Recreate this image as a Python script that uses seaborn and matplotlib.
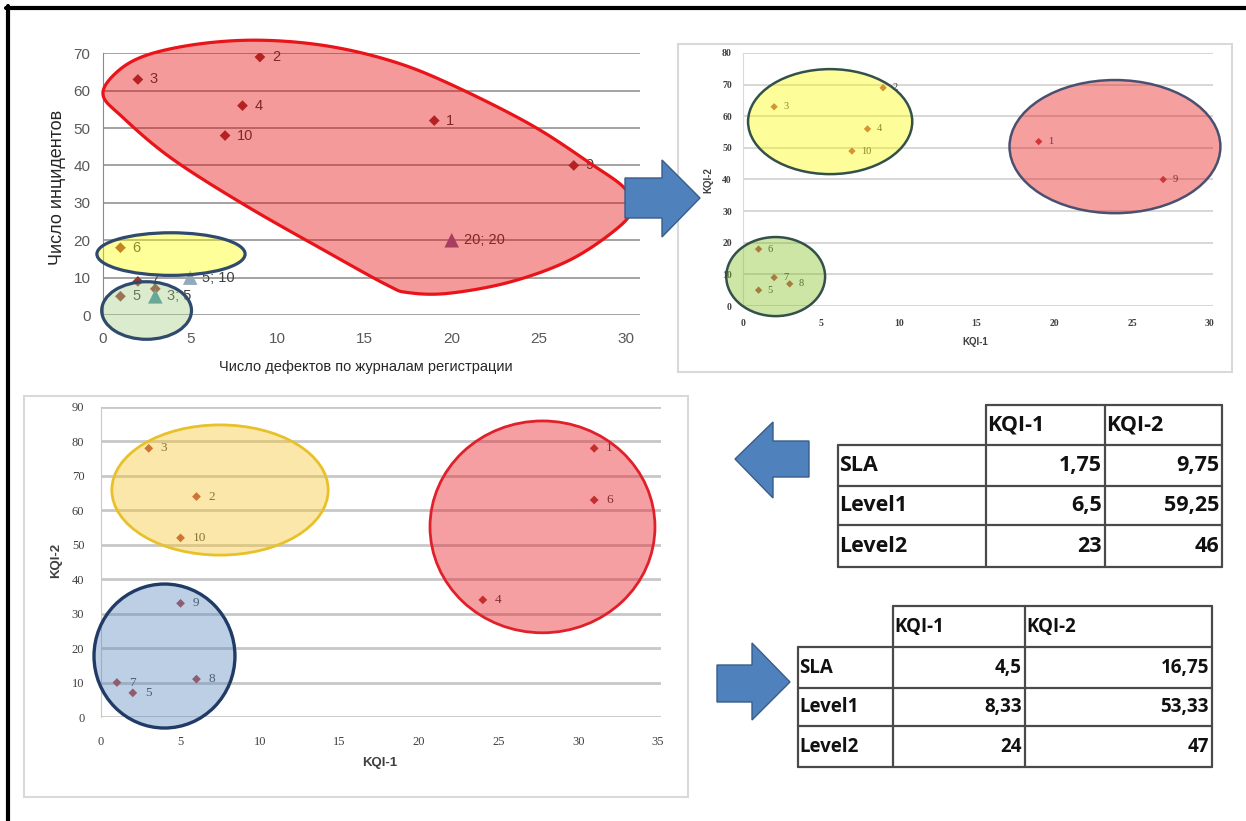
import numpy as np
import matplotlib
matplotlib.use("Agg")
import matplotlib.pyplot as plt
import seaborn as sns
from matplotlib.patches import Ellipse, Polygon, Rectangle
from matplotlib.lines import Line2D

# ---------------- data ----------------
object_ids = ["1", "2", "3", "4", "5", "6", "7", "8", "9", "10"]

# defects from registration logs vs. incidents (first clustering pass)
defects = [19, 9, 2, 8, 1, 1, 2, 3, 27, 7]
incidents = [52, 69, 63, 56, 5, 18, 9, 7, 40, 48]
defect_labels = ["1", "2", "3", "4", "5", "6", "7", "", "9", "10"]

# threshold points shown as triangles
threshold_defects = [3, 5, 20]
threshold_incidents = [5, 10, 20]
threshold_labels = ["3; 5", "5; 10", "20; 20"]

# KQI plane, same objects
kqi1_a = [19, 9, 2, 8, 1, 1, 2, 3, 27, 7]
kqi2_a = [52, 69, 63, 56, 5, 18, 9, 7, 40, 49]

# KQI plane, second sample
kqi1_b = [31, 6, 3, 24, 2, 31, 1, 6, 5, 5]
kqi2_b = [78, 64, 78, 34, 7, 63, 10, 11, 33, 52]

# level tables
table_rows = ["SLA", "Level1", "Level2"]
table_cols = ["KQI-1", "KQI-2"]
levels_a_kqi1 = [1.75, 6.5, 23]
levels_a_kqi2 = [9.75, 59.25, 46]
levels_b_kqi1 = [4.5, 8.33, 24]
levels_b_kqi2 = [16.75, 53.33, 47]

# ---------------- layout helpers ----------------
W, H = 1246, 821
sns.set_style("white")
plt.rcParams["font.family"] = ["Liberation Sans", "DejaVu Sans"]

fig = plt.figure(figsize=(W / 100, H / 100), dpi=100)
fig.patch.set_facecolor("white")


def px_rect(x0, y0, x1, y1):
    return [x0 / W, 1 - y1 / H, (x1 - x0) / W, (y1 - y0) / H]


def fpt(x, y):
    return (x / W, 1 - y / H)


def rgba(rgb, a=0.4):
    return (rgb[0] / 255, rgb[1] / 255, rgb[2] / 255, a)


def style_axes(ax, grid_color, grid_lw, spine_color):
    ax.patch.set_alpha(0)
    ax.grid(axis="y", color=grid_color, lw=grid_lw)
    ax.grid(axis="x", visible=False)
    ax.set_axisbelow(True)
    for s in ("top", "right", "bottom"):
        ax.spines[s].set_visible(False)
    ax.spines["left"].set_color(spine_color)
    ax.tick_params(length=0)
    ax.set_xlabel("")
    ax.set_ylabel("")


def label_points(ax, xs, ys, labels, dx, **kw):
    for x, y, t in zip(xs, ys, labels):
        if t:
            ax.annotate(t, (x, y), xytext=(dx, 0), textcoords="offset pixels",
                        ha="left", va="center", zorder=3, **kw)


def smooth_closed(pts, sx, sy, n=24):
    P = np.array(pts, dtype=float) * [sx, sy]
    m = len(P)
    t = np.linspace(0, 1, n, endpoint=False)[:, None]
    segs = []
    for i in range(m):
        p0, p1, p2, p3 = P[(i - 1) % m], P[i], P[(i + 1) % m], P[(i + 2) % m]
        segs.append(0.5 * (2 * p1 + (-p0 + p2) * t
                           + (2 * p0 - 5 * p1 + 4 * p2 - p3) * t ** 2
                           + (-p0 + 3 * p1 - 3 * p2 + p3) * t ** 3))
    return np.vstack(segs) / [sx, sy]


# ---------------- chart 1: defects vs incidents ----------------
ax1 = fig.add_axes(px_rect(103, 53.3, 640, 315))
sns.scatterplot(x=defects, y=incidents, marker="D", s=30, color="#953735",
                edgecolor="none", ax=ax1, zorder=2)
sns.scatterplot(x=threshold_defects, y=threshold_incidents, marker="^", s=110,
                hue=threshold_labels, palette=["#3f8fa6", "#93aabb", "#8064a2"],
                edgecolor="none", legend=False, ax=ax1, zorder=2)
ax1.set_xlim(0, 30.8)
ax1.set_ylim(0, 70)
ax1.set_xticks(range(0, 31, 5))
ax1.set_yticks(range(0, 71, 10))
style_axes(ax1, "#8a8a8a", 1.1, "#8a8a8a")
ax1.tick_params(labelsize=11, colors="#595959", pad=12)
ax1.tick_params(axis="y", pad=9)
label_points(ax1, defects, incidents, defect_labels, 12, fontsize=10.5, color="#404040")
label_points(ax1, threshold_defects, threshold_incidents, threshold_labels, 12,
             fontsize=10.5, color="#404040")

level2_outline = [(0.0, 59), (0.8, 65), (2.5, 69.5), (5.5, 72.5), (9, 73.5),
                  (12.8, 72), (16.5, 68), (19.8, 62), (24.5, 51), (28, 40.4),
                  (29.9, 34), (30.3, 29), (29.7, 24), (26.9, 15), (23.4, 8.9),
                  (19.8, 5.8), (17.5, 6), (16.3, 8), (12.8, 17), (8.1, 29.5),
                  (3.9, 42), (1.1, 53)]
blob = smooth_closed(level2_outline, 17.43, 3.74)
ax1.add_patch(Polygon(blob, closed=True, facecolor=rgba((230, 3, 3)),
                      edgecolor="#e8141a", lw=2.3, zorder=4, clip_on=False))
ax1.add_patch(Ellipse((3.9, 16.3), 8.5, 11.4, facecolor=rgba((255, 255, 0)),
                      edgecolor="#2f4a6d", lw=2.3, zorder=4, clip_on=False))
ax1.add_patch(Ellipse((2.5, 1.2), 5.15, 15.4, facecolor=rgba((167, 207, 130)),
                      edgecolor="#2f4a6d", lw=2.3, zorder=4, clip_on=False))

fig.text(*fpt(58, 187), "Число инцидентов", rotation=90, ha="center", va="center",
         fontsize=13, color="#262626")
fig.text(*fpt(366, 367), "Число дефектов по журналам регистрации", ha="center",
         va="center", fontsize=10.5, color="#262626")

# ---------------- chart 2: KQI plane ----------------
fig.add_artist(Rectangle(fpt(678, 372), (1232 - 678) / W, (372 - 44) / H,
                         transform=fig.transFigure, facecolor="none",
                         edgecolor="#d9d9d9", lw=1.5))
ax2 = fig.add_axes(px_rect(743, 53, 1213, 306))
sns.scatterplot(x=kqi1_a, y=kqi2_a, marker="D", s=14, color="#c0504d",
                edgecolor="none", ax=ax2, zorder=2)
ax2.set_xlim(0, 30.2)
ax2.set_ylim(0, 80)
ax2.set_xticks(range(0, 31, 5))
ax2.set_yticks(range(0, 81, 10))
style_axes(ax2, "#d4d4d4", 1.3, "#d9d9d9")
ax2.tick_params(labelsize=7, colors="#404040", pad=9)
ax2.tick_params(axis="y", pad=8)
for lab in ax2.get_xticklabels() + ax2.get_yticklabels():
    lab.set_family(["Liberation Serif", "DejaVu Serif"])
    lab.set_fontweight("bold")
label_points(ax2, kqi1_a, kqi2_a, object_ids, 9, fontsize=7.5,
             color="#404040", family=["Liberation Serif", "DejaVu Serif"])
ax2.add_patch(Ellipse((5.6, 58.3), 10.55, 33.2, facecolor=rgba((250, 250, 0)),
                      edgecolor="#34504a", lw=1.8, zorder=4, clip_on=False))
ax2.add_patch(Ellipse((23.9, 50.4), 13.55, 42.1, facecolor=rgba((230, 17, 17)),
                      edgecolor="#4a5070", lw=1.8, zorder=4, clip_on=False))
ax2.add_patch(Ellipse((2.1, 9.3), 6.35, 25.0, facecolor=rgba((130, 192, 30)),
                      edgecolor="#34504a", lw=1.8, zorder=4, clip_on=False))
fig.text(*fpt(975, 342), "KQI-1", ha="center", va="center", fontsize=7,
         fontweight="bold", color="#404040")
fig.text(*fpt(708, 180), "KQI-2", rotation=90, ha="center", va="center",
         fontsize=7, fontweight="bold", color="#404040")

# ---------------- chart 3: KQI plane, second sample ----------------
fig.add_artist(Rectangle(fpt(24, 797), (688 - 24) / W, (797 - 396) / H,
                         transform=fig.transFigure, facecolor="none",
                         edgecolor="#d9d9d9", lw=1.5))
ax3 = fig.add_axes(px_rect(101, 407, 661, 717))
sns.scatterplot(x=kqi1_b, y=kqi2_b, marker="D", s=20, color="#b0403d",
                edgecolor="none", ax=ax3, zorder=2)
ax3.set_xlim(0, 35.2)
ax3.set_ylim(0, 90)
ax3.set_xticks(range(0, 36, 5))
ax3.set_yticks(range(0, 91, 10))
style_axes(ax3, "#c8c8c8", 2.0, "#c8c8c8")
ax3.tick_params(labelsize=9, colors="#404040", pad=14)
ax3.tick_params(axis="y", pad=12)
for lab in ax3.get_xticklabels() + ax3.get_yticklabels():
    lab.set_family(["Liberation Serif", "DejaVu Serif"])
label_points(ax3, kqi1_b, kqi2_b, object_ids, 12, fontsize=9.5,
             color="#404040", family=["Liberation Serif", "DejaVu Serif"])
ax3.add_patch(Ellipse((7.48, 65.9), 13.6, 37.8, facecolor=rgba((247, 197, 42)),
                      edgecolor="#e8c12a", lw=2.0, zorder=4, clip_on=False))
ax3.add_patch(Ellipse((27.75, 55.2), 14.14, 61.5, facecolor=rgba((230, 17, 25)),
                      edgecolor="#e0202a", lw=2.0, zorder=4, clip_on=False))
ax3.add_patch(Ellipse((3.99, 17.7), 8.86, 41.8, facecolor=rgba((92, 137, 192)),
                      edgecolor="#1f3b66", lw=2.4, zorder=4, clip_on=False))
fig.text(*fpt(380, 763), "KQI-1", ha="center", va="center", fontsize=9.5,
         fontweight="bold", color="#404040")
fig.text(*fpt(56, 560), "KQI-2", rotation=90, ha="center", va="center",
         fontsize=9.5, fontweight="bold", color="#404040")


# ---------------- level tables ----------------
def fig_line(x0, y0, x1, y1, color="#4a4a4a", lw=1.6):
    fig.add_artist(Line2D([x0 / W, x1 / W], [1 - y0 / H, 1 - y1 / H],
                          transform=fig.transFigure, color=color, lw=lw))


def fmt(v):
    return f"{v:g}".replace(".", ",")


def draw_table(cols, rows, k1, k2, fs):
    fig_line(cols[1], rows[0], cols[3], rows[0])
    for x in cols[1:]:
        fig_line(x, rows[0], x, rows[-1])
    fig_line(cols[0], rows[1], cols[0], rows[-1])
    for y in rows[1:]:
        fig_line(cols[0], y, cols[3], y)
    kw = dict(fontsize=fs, fontweight="bold", color="#111111", va="center",
              family=["Open Sans", "DejaVu Sans"])
    for j, name in enumerate(table_cols):
        fig.text(*fpt(cols[j + 1] + 1, (rows[0] + rows[1]) / 2), name, ha="left", **kw)
    for i, name in enumerate(table_rows):
        yc = (rows[i + 1] + rows[i + 2]) / 2
        fig.text(*fpt(cols[0] + 1, yc), name, ha="left", **kw)
        fig.text(*fpt(cols[2] - 3, yc), fmt(k1[i]), ha="right", **kw)
        fig.text(*fpt(cols[3] - 3, yc), fmt(k2[i]), ha="right", **kw)


draw_table([838, 986, 1105, 1222], [405, 445, 486, 525, 567],
           levels_a_kqi1, levels_a_kqi2, 15.5)
draw_table([798, 893, 1025, 1212], [606, 647, 688, 726, 767],
           levels_b_kqi1, levels_b_kqi2, 13.5)


# ---------------- block arrows ----------------
def block_arrow(x0, x1, tip, y_shaft, y_head, y_tip):
    pts = [(x0, y_shaft[0]), (x1, y_shaft[0]), (x1, y_head[0]), (tip, y_tip),
           (x1, y_head[1]), (x1, y_shaft[1]), (x0, y_shaft[1])]
    fig.add_artist(Polygon([fpt(x, y) for x, y in pts], closed=True,
                           transform=fig.transFigure, facecolor="#4f81bd",
                           edgecolor="#385d8a", lw=1.0))


block_arrow(625, 662, 700, (178, 218), (160, 237), 198)
block_arrow(809, 773, 735, (441, 477), (422, 498), 459)
block_arrow(717, 752, 790, (665, 702), (643, 720), 682)

# outer frame (left and top)
fig.add_artist(Line2D([8 / W, 8 / W], [0, 1 - 6 / H], transform=fig.transFigure,
                      color="black", lw=3))
fig.add_artist(Line2D([6 / W, 1], [1 - 8 / H, 1 - 8 / H], transform=fig.transFigure,
                      color="black", lw=3))

fig.savefig("out.png", dpi=100, facecolor="white")
